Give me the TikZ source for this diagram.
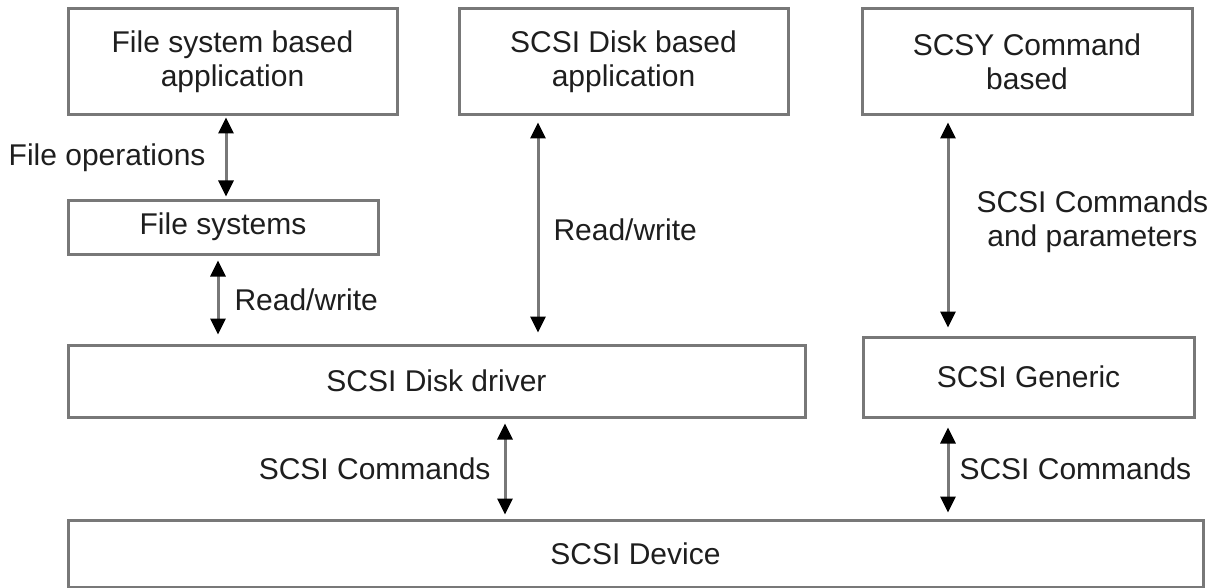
\documentclass[tikz,border=0pt]{standalone}
\usepackage{fontspec}
\setmainfont{Liberation Sans}
\usetikzlibrary{arrows.meta}

\definecolor{boxgray}{RGB}{120,120,120}
\definecolor{textgray}{RGB}{30,30,30}

\tikzset{
    layer/.style={draw=boxgray, line width=3pt, rectangle, inner sep=0pt,
        align=center, text=textgray, font=\fontsize{30}{34}\selectfont},
    link/.style={draw=boxgray, line width=3pt,
        {Triangle[black,length=16pt,width=15pt]}-{Triangle[black,length=16pt,width=15pt]}},
    tag/.style={text=textgray, align=center, inner sep=0pt, font=\fontsize{30}{34}\selectfont}
}

\begin{document}
\begin{tikzpicture}[x=1pt, y=-1pt]
    \useasboundingbox (0,0) rectangle (1214,588);

    % Draw application boxes
    \node[layer, minimum width=329pt, minimum height=106pt] (fsapp) at (232.5,62) {File system based\\application};
    \node[layer, minimum width=329pt, minimum height=106pt] (diskapp) at (623.5,62) {SCSI Disk based\\application};
    \node[layer, minimum width=330pt, minimum height=106pt] (cmdapp) at (1027,62) {SCSY Command\\based};

    % Draw driver boxes
    \node[layer, minimum width=310pt, minimum height=54pt] (fs) at (223,227) {File systems};
    \node[layer, minimum width=737pt, minimum height=72pt] (driver) at (436.5,381) {SCSI Disk driver};
    \node[layer, minimum width=331pt, minimum height=80pt] (generic) at (1028.5,377) {SCSI Generic};

    % Draw device box
    \node[layer, minimum width=1135pt, minimum height=67pt] (device) at (635.5,553.5) {SCSI Device};

    % Draw connectors
    \draw[link, shorten <=1pt, shorten >=2pt] (fsapp.south -| 226,0) -- (fs.north -| 226,0)
        node[tag, midway, anchor=east, xshift=-19pt] {File operations};
    \draw[link, shorten <=5pt, shorten >=9pt] (fs.south -| 218,0) -- (driver.north -| 218,0)
        node[tag, midway, anchor=west, xshift=15pt] {Read/write};
    \draw[link, shorten <=6pt, shorten >=11pt] (diskapp.south -| 538,0) -- (driver.north -| 538,0)
        node[tag, midway, anchor=west, xshift=14pt] {Read/write};
    \draw[link, shorten <=6pt, shorten >=8pt] (cmdapp.south -| 948,0) -- (generic.north -| 948,0)
        node[tag, midway, anchor=west, xshift=27pt, yshift=4pt] {SCSI Commands\\and parameters};
    \draw[link, shorten <=5pt, shorten >=4pt] (driver.south -| 505,0) -- (device.north -| 505,0)
        node[tag, midway, anchor=east, xshift=-13pt] {SCSI Commands};
    \draw[link, shorten <=9pt, shorten >=6pt] (generic.south -| 948,0) -- (device.north -| 948,0)
        node[tag, midway, anchor=west, xshift=10pt] {SCSI Commands};
\end{tikzpicture}
\end{document}
